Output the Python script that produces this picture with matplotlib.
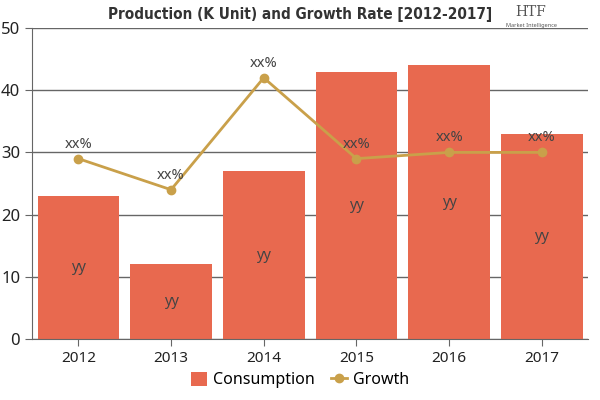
import matplotlib
matplotlib.use("Agg")
import matplotlib.pyplot as plt

years = ["2012", "2013", "2014", "2015", "2016", "2017"]
consumption = [23, 12, 27, 43, 44, 33]
growth = [29, 24, 42, 29, 30, 30]
bar_labels = ["yy"] * 6
growth_labels = ["xx%"] * 6

bar_color = "#e8694f"
line_color = "#c9a04a"

plt.rcParams["font.family"] = ["Noto Sans", "DejaVu Sans"]

fig = plt.figure(figsize=(6, 4), dpi=100)
ax = fig.add_axes([0.0533, 0.1525, 0.927, 0.7775])

x = list(range(len(years)))
bars = ax.bar(x, consumption, width=0.88, color=bar_color, label="Consumption", zorder=2)
line, = ax.plot(x, growth, color=line_color, lw=2, marker="o", ms=6, label="Growth", zorder=3)

for xi, v, t in zip(x, consumption, bar_labels):
	ax.text(xi, v / 2, t, ha="center", va="center", fontsize=10.5, color="#444444", zorder=4)
for xi, v, t in zip(x, growth, growth_labels):
	ax.annotate(t, (xi, v), xytext=(0, 5), textcoords="offset points",
		ha="center", va="bottom", fontsize=10.5, color="#444444", zorder=4)

ax.set_xlim(-0.5, 5.5)
ax.set_ylim(0, 50)
ax.set_yticks([0, 10, 20, 30, 40, 50])
ax.set_xticks(x)
ax.set_xticklabels(years)
ax.yaxis.grid(True, color="#666666", lw=1, zorder=0)
ax.set_axisbelow(True)
for s in ["top", "right"]:
	ax.spines[s].set_visible(False)
ax.spines["left"].set_color("#666666")
ax.spines["bottom"].set_color("#666666")
ax.tick_params(axis="both", colors="#666666", labelcolor="#222222", labelsize=11, length=5)
ax.tick_params(axis="y", labelsize=12)

fig.text(0.5, 0.965, "Production (K Unit) and Growth Rate [2012-2017]", ha="center", va="center",
	fontsize=11, fontweight="bold", family="DejaVu Sans", fontstretch="condensed", color="#333333")
fig.text(0.885, 0.97, "HTF", ha="center", va="center", fontsize=10, color="#555555", family="serif")
fig.text(0.885, 0.935, "Market Intelligence", ha="center", va="center", fontsize=4, color="#555555")

fig.legend(handles=[bars, line], loc="center", bbox_to_anchor=(0.5, 0.05), ncol=2, frameon=False,
	handlelength=1.0, handleheight=1.0, columnspacing=1.0, handletextpad=0.4,
	prop={"weight": "semibold", "size": 11.5})

plt.savefig("out.png", dpi=100)
